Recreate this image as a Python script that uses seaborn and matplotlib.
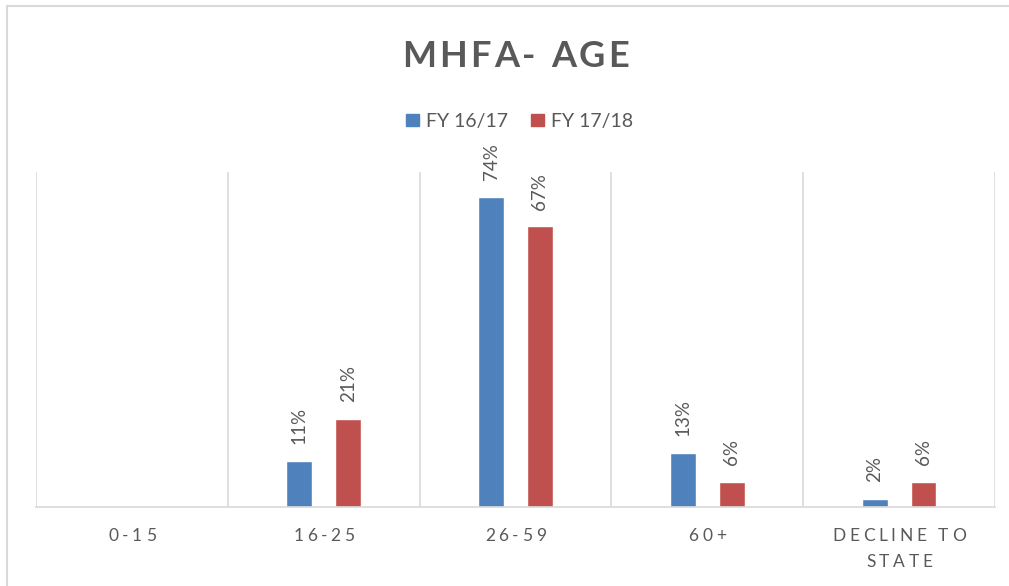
import matplotlib
matplotlib.use("Agg")
import matplotlib.pyplot as plt
from matplotlib.lines import Line2D
from matplotlib.ticker import FixedLocator
from matplotlib.transforms import offset_copy
from matplotlib.font_manager import FontProperties, findfont
from matplotlib.ft2font import FT2Font
import seaborn as sns
import pandas as pd

# Age bands and share of MHFA participants per fiscal year (%)
age_groups = ["0-15", "16-25", "26-59", "60+", "DECLINE TO\nSTATE"]
fy_1617 = [0, 11, 74, 13, 2]
fy_1718 = [0, 21, 67, 6, 6]
series_names = ["FY 16/17", "FY 17/18"]
chart_title = "MHFA- AGE"

df = pd.DataFrame({
    "age": age_groups * 2,
    "pct": fy_1617 + fy_1718,
    "year": [series_names[0]] * len(age_groups) + [series_names[1]] * len(age_groups),
})

sns.set_theme(style="white")
plt.rcParams["font.family"] = ["Lato", "DejaVu Sans"]

text_gray = "#595959"
grid_gray = "#D9D9D9"
palette = {series_names[0]: "#4F81BD", series_names[1]: "#C0504D"}

fig = plt.figure(figsize=(10.09, 5.86), dpi=100)
ax = fig.add_axes([0.0357, 0.1348, 0.9504, 0.5717])


def spaced_text(x, y, s, transform, spacing_px, size, weight="normal",
                dy_pt=0.0, color=text_gray):
    """Draw a single line of text centred on (x, y) with extra letter spacing."""
    fp = FontProperties(family=plt.rcParams["font.family"], size=size, weight=weight)
    font = FT2Font(findfont(fp))
    font.set_size(size, fig.dpi)
    advances = [font.load_char(ord(c)).linearHoriAdvance / 65536 for c in s]
    total = sum(advances) + spacing_px * (len(s) - 1)
    pos = -total / 2
    for ch, adv in zip(s, advances):
        tr = offset_copy(transform, fig=fig, x=pos * 72 / fig.dpi, y=dy_pt, units="points")
        fig.text(x, y, ch, transform=tr, ha="left", va="baseline",
                 fontproperties=fp, color=color, clip_on=False)
        pos += adv + spacing_px


sns.barplot(data=df, x="age", y="pct", hue="year", palette=palette,
            order=age_groups, hue_order=series_names,
            width=0.51, gap=0.47, ax=ax, legend=False, saturation=1)

ax.set_xlim(-0.5, len(age_groups) - 0.5)
ax.set_ylim(0, 80)
ax.set_yticks([])
ax.set_xlabel("")
ax.set_ylabel("")

# category separators
ax.xaxis.set_minor_locator(FixedLocator([i - 0.5 for i in range(len(age_groups) + 1)]))
ax.grid(True, which="minor", axis="x", color=grid_gray, linewidth=1.2)
ax.grid(False, which="major")
ax.tick_params(axis="x", which="both", length=0, labelbottom=False)

for side in ["top", "left", "right"]:
    ax.spines[side].set_visible(False)
ax.spines["bottom"].set_color(grid_gray)
ax.spines["bottom"].set_linewidth(1.2)

# category labels, letter-spaced, one or two lines
xt = ax.get_xaxis_transform()
for i, label in enumerate(age_groups):
    for j, line in enumerate(label.split("\n")):
        spaced_text(i, 0, line, xt, spacing_px=3.6, size=12.5,
                    dy_pt=-(34 + 26 * j) * 72 / fig.dpi)

# value labels (skip empty bars)
for container in ax.containers:
    labels = [f"{v:.0f}%" if v > 0 else "" for v in container.datavalues]
    ax.bar_label(container, labels=labels, rotation=90, padding=12,
                 fontsize=13.5, color=text_gray)

spaced_text(0.511, 1 - 67 / 586, chart_title, fig.transFigure,
            spacing_px=3.2, size=26, weight="bold")

handles = [plt.Rectangle((0, 0), 1, 1, color=palette[n]) for n in series_names]
fig.legend(handles, series_names, loc="center", bbox_to_anchor=(0.515, 0.7927),
           ncol=2, frameon=False, fontsize=14, handlelength=0.67,
           handleheight=0.6, handletextpad=0.35, columnspacing=1.2,
           labelcolor=text_gray)

# chart area border
fig.add_artist(Line2D([0.0065, 1.0], [0.9897, 0.9897], color=grid_gray, linewidth=1.5))
fig.add_artist(Line2D([0.0065, 0.0065], [0.0, 0.9897], color=grid_gray, linewidth=1.5))

fig.savefig("out.png", dpi=100)
